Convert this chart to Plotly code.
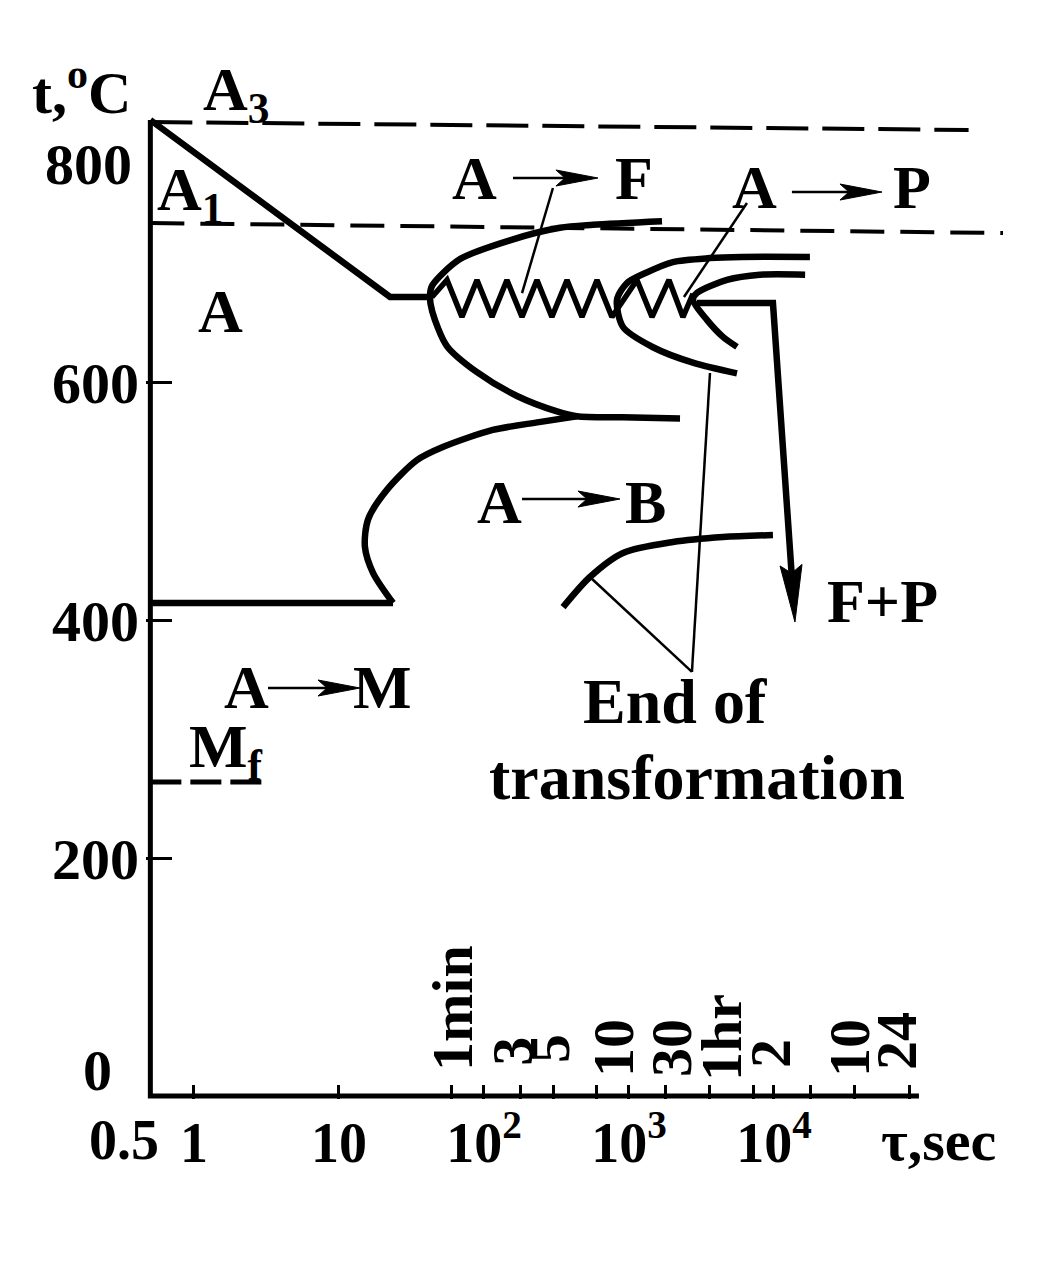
import numpy as np
import plotly.graph_objects as go

# ---------------- layout geometry ----------------
# (the page body has an 8px margin, so the figure is 8px smaller and margins shifted)
W, H = 1050, 1276
M_L, M_R, M_T, M_B = 138, 48, 54, 185
X_RANGE = [-0.331, 5.628]          # log10(seconds)
Y_RANGE = [-2.5, 870.0]            # deg C
PLOT_W = W - M_L - M_R
PLOT_H = H - M_T - M_B
PX_PER_DEC = PLOT_W / (X_RANGE[1] - X_RANGE[0])
PX_PER_DEG = PLOT_H / (Y_RANGE[1] - Y_RANGE[0])
FONT = "Liberation Serif"

# ---------------- data (time in s, temperature in deg C) ----------------
axis_t = [0.5, 0.5, 1.0e5]
axis_T = [821.2, 0.0, 0.0]

A3_t = [0.5, 2.2e5]
A3_T = [819.5, 812.8]
A1_t = [0.5, 3.8e5]
A1_T = [734.5, 726.1]
Mf_t = [0.5, 3.1]
Mf_T = [264.2, 264.2]

cool1_t = [0.5, 22.5, 42.4]
cool1_T = [821.2, 672.3, 672.3]

fstart_t = [1690, 565, 334, 151, 68, 44, 42.4, 44, 55.5, 89.5, 169, 319, 437, 900, 2250]
fstart_T = [736, 733, 730.5, 720, 704, 682, 673, 660, 631, 609, 589, 576, 572, 571, 570]

bstart_t = [437, 240, 115, 52, 34.5, 21.4, 15.85, 15.1, 17.2, 23.6]
bstart_T = [572, 567, 560.4, 546, 535, 510, 485, 462, 440, 414.8]
bflat_t = [23.6, 0.5]
bflat_T = [414.8, 414.8]

bend_t = [351, 538, 910, 2010, 4450, 9840]
bend_T = [411.4, 436.7, 456.9, 466.1, 470.3, 472.0]

pstart_t = [17700, 6000, 3620, 2010, 1300, 969, 827, 910, 1465, 2763, 5560]
pstart_T = [706, 706, 705, 701.7, 692.5, 684, 670, 647, 630, 617, 608]

pend_t = [16400, 8000, 4740, 2944, 2763, 3450, 4450, 5560]
pend_T = [691, 691, 686.6, 675.7, 669.8, 653, 638.7, 630.3]

zig_t = [43.8, 55.6, 70.5, 89.5, 113.5, 144, 183, 232, 294, 374, 474, 602, 763,
         1135, 1442, 1888, 2356, 2763]
zig_T = [672.3, 686.6, 655.4, 686.6, 655.4, 686.6, 655.4, 686.6, 655.4, 686.6, 655.4,
         686.6, 655.4, 686.6, 655.4, 686.6, 655.4, 675.0]

cool2_t = [2944, 9840, 13960]
cool2_T = [667.2, 667.2, 398.8]

leaders = [
    ([299, 183], [764.0, 675.6]),
    ([6515, 2395], [751.4, 672.3]),
    ([2718, 3620], [356.8, 608.3]),
    ([2718, 538], [356.8, 436.7]),
]

# label arrows: (tail_t, tail_T, tip_t, tip_T)
label_arrows = [
    (158.5, 772.4, 611, 772.4),     # A -> F
    (13300, 760.6, 55600, 760.6),   # A -> P
    (183, 502.3, 867, 502.3),       # A -> B
    (3.24, 343.3, 13.96, 343.3),    # A -> M
]

major_vals = [1, 10, 100, 1000, 10000]
major_text = ["1", "10", "10<sup>2</sup>", "10<sup>3</sup>", "10<sup>4</sup>"]
minor_vals = [60, 180, 300, 600, 1800, 3600, 7200, 18000, 36000, 86400]

time_marks = ["1min", "3", "5", "10", "30", "1hr", "2", "10", "24"]
time_marks_t = [60.1, 158, 281, 776, 1950, 4310, 9380, 32900, 69400]
time_marks_T = [74, 37.9, 39.5, 40.4, 40.4, 49.6, 36.2, 40.4, 46.3]

# ---------------- helpers ----------------
fig = go.Figure()


def add_line(t, T, width, dash=None, spline=False):
    fig.add_trace(go.Scatter(
        x=t, y=T, mode="lines",
        line=dict(color="black", width=width, dash=dash,
                  shape="spline" if spline else "linear", smoothing=0.8 if spline else None),
        hoverinfo="skip", showlegend=False))


def head(t0, T0, t1, T1, length, half, notch):
    u0, v0 = np.log10(t0) * PX_PER_DEC, T0 * PX_PER_DEG
    u1, v1 = np.log10(t1) * PX_PER_DEC, T1 * PX_PER_DEG
    d = np.array([u1 - u0, v1 - v0])
    d = d / np.hypot(*d)
    n = np.array([-d[1], d[0]])
    tip = np.array([u1, v1])
    base = tip - length * d
    neck = tip - (length - notch) * d
    pts = [tip, base + half * n, neck, base - half * n, tip]
    ht = [10 ** (p[0] / PX_PER_DEC) for p in pts]
    hT = [p[1] / PX_PER_DEG for p in pts]
    return ht, hT, (10 ** (neck[0] / PX_PER_DEC), neck[1] / PX_PER_DEG)


def add_arrow(t0, T0, t1, T1, width, length, half, notch, pre_t=None, pre_T=None):
    ht, hT, neck = head(t0, T0, t1, T1, length, half, notch)
    lt = (pre_t or []) + [t0, neck[0]]
    lT = (pre_T or []) + [T0, neck[1]]
    add_line(lt, lT, width)
    fig.add_trace(go.Scatter(x=ht, y=hT, mode="lines", fill="toself", fillcolor="black",
                             line=dict(color="black", width=1), hoverinfo="skip", showlegend=False))


# ---------------- drawing ----------------
add_line(A3_t, A3_T, 4, dash="42px,14px")
add_line(A1_t, A1_T, 4, dash="34px,16px")
add_line(Mf_t, Mf_T, 5, dash="31px,9px")

add_line(axis_t, axis_T, 5)
add_line(cool1_t, cool1_T, 6.5)
add_line(fstart_t, fstart_T, 6.5, spline=True)
add_line(bstart_t, bstart_T, 6.5, spline=True)
add_line(bflat_t, bflat_T, 6.5)
add_line(bend_t, bend_T, 6.5, spline=True)
add_line(pstart_t, pstart_T, 6.5, spline=True)
add_line(pend_t, pend_T, 6.5, spline=True)
add_line(zig_t, zig_T, 5.5)
for lt, lT in leaders:
    add_line(lt, lT, 2.5)

# cooling curve 2 with large arrow head
add_arrow(cool2_t[1], cool2_T[1], cool2_t[2], cool2_T[2], 6.5, 57, 11, 8,
          pre_t=[cool2_t[0]], pre_T=[cool2_T[0]])
for a in label_arrows:
    add_arrow(*a, 2.5, 42, 8, 9)

# ---------------- annotations ----------------
ann = []


def txt(text, x, y, size=62, xref="x", yref="y", angle=0):
    if xref == "x":
        x = np.log10(x)
    ann.append(dict(text=text, x=x, y=y, xref=xref, yref=yref, showarrow=False,
                    xanchor="center", yanchor="middle", textangle=angle,
                    font=dict(family=FONT, size=size, color="black", weight="bold")))


txt("A<sub>3</sub>", 1.95, 843.4)
txt("A<sub>1</sub>", 0.94, 759.0)
txt("A", 1.53, 660.6)
txt("A", 86.7, 772.4)
txt("F", 1081, 772.4)
txt("A", 7396, 765.0)
txt("P", 89540, 765.0)
txt("A", 128.8, 500.0)
txt("B", 1309, 500.0)
txt("A", 2.29, 344.0)
txt("M", 20.1, 344.0)
txt("M<sub>f</sub>", 1.66, 291.0)
txt("F+P", 56490, 416.5)
txt("End of", 2075, 331.8, size=64)
txt("transformation", 2944, 267.6, size=64)
for s, tt, TT in zip(time_marks, time_marks_t, time_marks_T):
    txt(s, tt, TT, size=58, angle=-90)

# labels outside the plotting area (paper x)
txt("t,<sup>o</sup>C", -0.0752, 848.0, size=60, xref="paper")
txt("800", -0.0671, 784.0, size=58, xref="paper")
txt("0", -0.0567, 21.9, size=58, xref="paper")
txt("0.5", -0.0255, -0.040, size=56, xref="paper", yref="paper")
txt("\u03c4,sec", 0.9167, -0.040, size=58, xref="paper", yref="paper")

fig.update_layout(
    width=W, height=H,
    margin=dict(l=M_L, r=M_R, t=M_T, b=M_B, autoexpand=False),
    paper_bgcolor="white", plot_bgcolor="white",
    showlegend=False,
    annotations=ann,
    xaxis=dict(type="log", range=X_RANGE, showgrid=False, zeroline=False, showline=False,
               tickmode="array", tickvals=major_vals, ticktext=major_text,
               ticks="inside", ticklen=14, tickwidth=3, tickcolor="black",
               ticklabelstandoff=6, automargin=False,
               minor=dict(tickmode="array", tickvals=minor_vals, ticks="inside",
                          ticklen=14, tickwidth=3, tickcolor="black", showgrid=False),
               tickfont=dict(family=FONT, size=56, color="black", weight="bold")),
    yaxis=dict(range=Y_RANGE, showgrid=False, zeroline=False, showline=False,
               tickmode="array", tickvals=[200, 400, 600], ticktext=["200", "400", "600"],
               ticks="inside", ticklen=26, tickwidth=3, tickcolor="black",
               ticklabelstandoff=6, automargin=False,
               tickfont=dict(family=FONT, size=58, color="black", weight="bold")),
)

fig.write_html("out.html")
